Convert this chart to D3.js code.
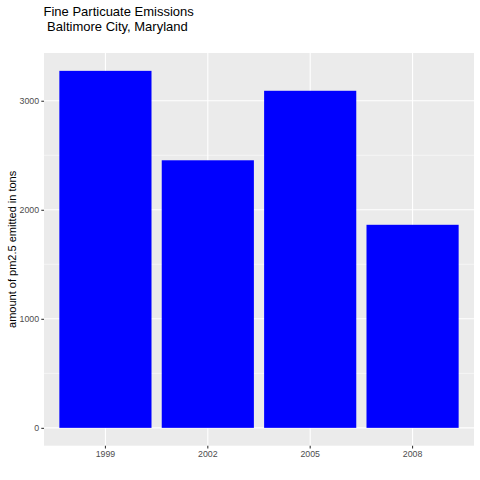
<!DOCTYPE html>
<html>
<head>
<meta charset="utf-8">
<script src="https://cdn.jsdelivr.net/npm/d3@7"></script>
<style>
  body { margin: 0; background: #fff; }
  svg { display: block; font-family: "Liberation Sans", Arial, sans-serif; }
</style>
</head>
<body>
<div id="chart"></div>
<script>
// data
const years = ["1999", "2002", "2005", "2008"];
const emissions = [3274.18, 2453.92, 3091.35, 1862.28];
const yTicks = [0, 1000, 2000, 3000];
const yMinor = [500, 1500, 2500];
const titleLines = ["Fine Particuate Emissions", " Baltimore City, Maryland"];
const yLabel = "amount of pm2.5 emitted in tons";

const width = 480, height = 480;
const panel = { left: 44, right: 474, top: 53, bottom: 445.7 };

const svg = d3.select("#chart").append("svg")
    .attr("width", width)
    .attr("height", height);

const x = d3.scaleBand()
    .domain(years)
    .range([panel.left, panel.right])
    .paddingInner(0.1)
    .paddingOuter(0.15);

const ymax = d3.max(emissions);
const y = d3.scaleLinear()
    .domain([-0.05 * ymax, 1.05 * ymax])
    .range([panel.bottom, panel.top]);

// panel background
svg.append("rect")
    .attr("x", panel.left).attr("y", panel.top)
    .attr("width", panel.right - panel.left)
    .attr("height", panel.bottom - panel.top)
    .attr("fill", "#EBEBEB");

// minor grid
svg.selectAll(".minor").data(yMinor).enter().append("line")
    .attr("x1", panel.left).attr("x2", panel.right)
    .attr("y1", d => y(d)).attr("y2", d => y(d))
    .attr("stroke", "#fff").attr("stroke-width", 0.53);

// major grid
svg.selectAll(".majorY").data(yTicks).enter().append("line")
    .attr("x1", panel.left).attr("x2", panel.right)
    .attr("y1", d => y(d)).attr("y2", d => y(d))
    .attr("stroke", "#fff").attr("stroke-width", 1.07);

svg.selectAll(".majorX").data(years).enter().append("line")
    .attr("x1", d => x(d) + x.bandwidth() / 2).attr("x2", d => x(d) + x.bandwidth() / 2)
    .attr("y1", panel.top).attr("y2", panel.bottom)
    .attr("stroke", "#fff").attr("stroke-width", 1.07);

// bars
svg.selectAll(".bar").data(years).enter().append("rect")
    .attr("x", d => x(d))
    .attr("width", x.bandwidth())
    .attr("y", (d, i) => y(emissions[i]))
    .attr("height", (d, i) => y(0) - y(emissions[i]))
    .attr("fill", "#0000FF");

// axes
const yAxis = svg.append("g")
    .attr("transform", `translate(${panel.left},0)`)
    .call(d3.axisLeft(y).tickValues(yTicks).tickFormat(d3.format("d")).tickSize(2.7).tickPadding(2.2));
const xAxis = svg.append("g")
    .attr("transform", `translate(0,${panel.bottom})`)
    .call(d3.axisBottom(x).tickSize(2.7).tickPadding(2.5));

[yAxis, xAxis].forEach(g => {
    g.select(".domain").remove();
    g.selectAll(".tick line").attr("stroke", "#333333").attr("stroke-width", 1.07);
    g.selectAll(".tick text")
        .attr("fill", "#4D4D4D")
        .style("font-size", "8.8px")
        .style("font-family", "'Liberation Sans', Arial, sans-serif");
});

// y axis title
svg.append("text")
    .attr("transform", `translate(15.5,${(panel.top + panel.bottom) / 2}) rotate(-90)`)
    .attr("text-anchor", "middle")
    .style("font-size", "11px")
    .attr("fill", "#000")
    .text(yLabel);

// title, two lines
svg.selectAll(".title").data(titleLines).enter().append("text")
    .attr("class", "title")
    .attr("x", 43.5)
    .attr("y", (d, i) => 16 + i * 14.6)
    .attr("xml:space", "preserve")
    .style("white-space", "pre")
    .style("font-size", "13px")
    .attr("fill", "#000")
    .text(d => d);
</script>
</body>
</html>
